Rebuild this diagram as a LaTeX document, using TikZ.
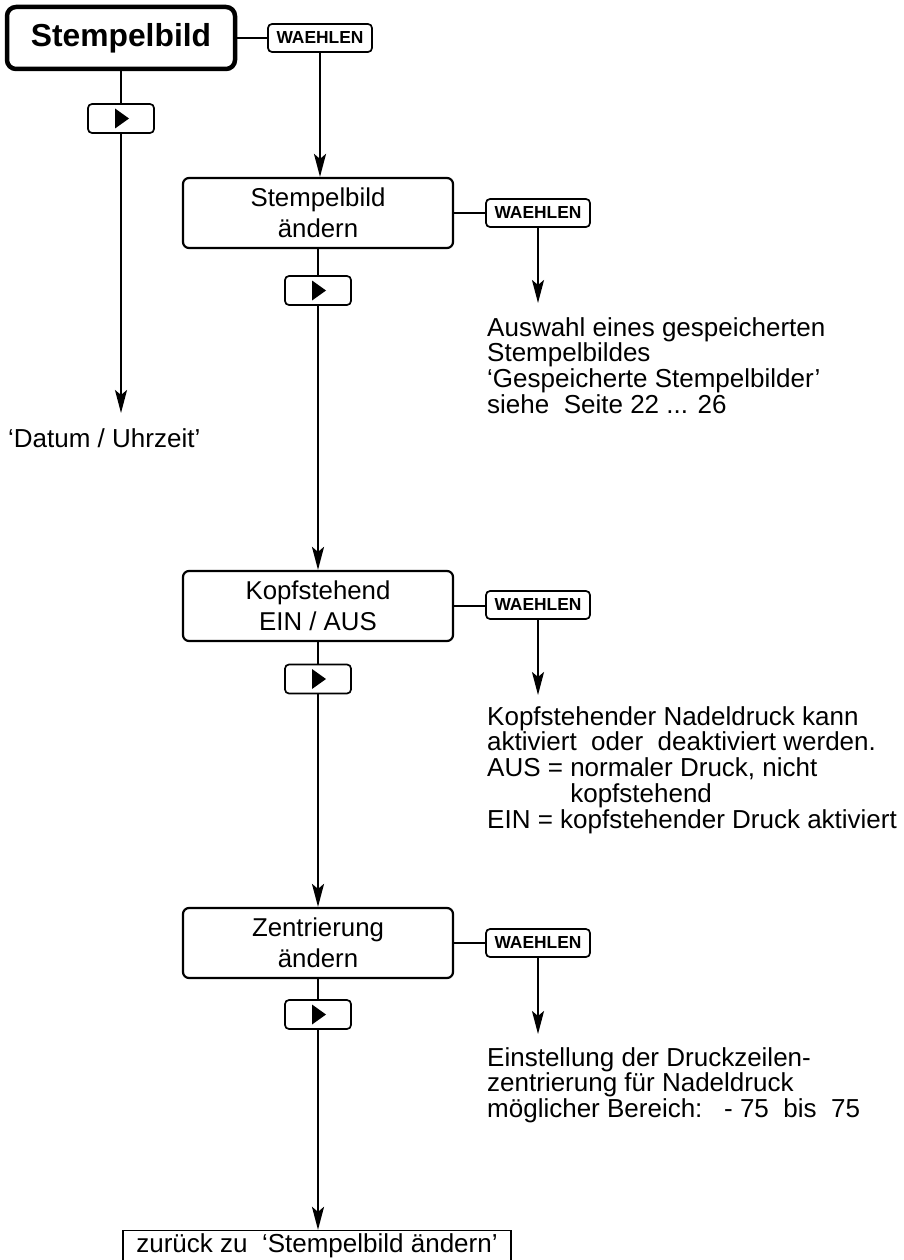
\documentclass[tikz,border=0pt]{standalone}
\usepackage{fontspec}
\setmainfont{Liberation Sans}
\usetikzlibrary{arrows.meta, positioning, calc}
\newcommand{\boxfont}{\fontsize{25.8}{31}\selectfont}
\newcommand{\notefont}{\fontsize{26}{25.8}\selectfont}
\tikzset{
  menu box/.style={
    draw, line width=2.2pt, rounded corners=6pt,
    minimum width=270pt, minimum height=70pt,
    inner sep=0pt, align=center, font=\boxfont
  },
  sel key/.style={
    draw, line width=1.7pt, rounded corners=4pt,
    minimum width=104pt, minimum height=28pt,
    inner sep=0pt, font=\fontsize{17.4}{18}\selectfont\bfseries
  },
  fwd key/.style={
    draw, line width=1.7pt, rounded corners=4pt,
    minimum width=66pt, minimum height=29pt, inner sep=0pt
  }
}

\begin{document}
\begin{tikzpicture}[x=1pt, y=-1pt,
  link/.style={line width=2.3pt},
  flow/.style={line width=2.3pt, -{Stealth[length=23pt, width=12pt, inset=5pt]}},
  note/.style={anchor=north west, align=left, inner sep=0pt, font=\notefont}]

  \useasboundingbox (0,0) rectangle (904,1260);

  % ====== MAIN MENU ======
  \node[draw, line width=4.5pt, rounded corners=9pt, minimum width=228pt, minimum height=62pt,
        inner sep=0pt, font=\fontsize{31.8}{32}\selectfont\bfseries] (top) at (121,38) {Stempelbild};
  \node[sel key] (w0) at (320,38) {WAEHLEN};
  \node[fwd key] (p0) at (121,118.5) {};
  \node[anchor=base west, inner sep=0pt, font=\notefont] (datum) at (8,447) {‘Datum / Uhrzeit’};
  \coordinate (datumtip) at (121,413);

  % ====== STEMPELBILD AENDERN ======
  \node[menu box] (box1) at (318,213) {Stempelbild\\ändern};
  \node[sel key] (w1) at (538,213) {WAEHLEN};
  \node[fwd key] (p1) at (318,290.5) {};
  \node[note] (text1) at (487,317) {Auswahl eines gespeicherten\\Stempelbildes\\‘Gespeicherte Stempelbilder’\\siehe\ \ Seite 22 ... 26};
  \coordinate (tip1) at (538,303);

  % ====== KOPFSTEHEND ======
  \node[menu box] (box2) at (318,606) {Kopfstehend\\EIN / AUS};
  \node[sel key] (w2) at (538,605) {WAEHLEN};
  \node[fwd key] (p2) at (318,679) {};
  \node[note] (text2) at (487,706) {Kopfstehender Nadeldruck kann\\aktiviert\ \ oder\ \ deaktiviert werden.\\AUS = normaler Druck, nicht\\\hphantom{AUS = }kopfstehend\\EIN = kopfstehender Druck aktiviert};
  \coordinate (tip2) at (538,695);

  % ====== ZENTRIERUNG ======
  \node[menu box] (box3) at (318,943) {Zentrierung\\ändern};
  \node[sel key] (w3) at (538,943) {WAEHLEN};
  \node[fwd key] (p3) at (318,1014.5) {};
  \node[note] (text3) at (487,1047) {Einstellung der Druckzeilen-\\zentrierung für Nadeldruck\\möglicher Bereich:\ \ \ - 75\ \ bis\ \ 75};
  \coordinate (tip3) at (538,1034);

  % ====== BACK ======
  \node[draw, line width=1.3pt, minimum width=388pt, minimum height=31pt, inner sep=0pt,
        font=\notefont] (back) at (317,1246) {zurück zu\ \ ‘Stempelbild ändern’};

  % ====== CONNECTORS ======
  \draw[link] (top.east) -- (w0.west);
  \draw[flow] (w0.south) -- (w0.south |- box1.north);
  \draw[link] (top.south) -- (p0.north);
  \draw[flow] (p0.south) -- (datumtip);

  \draw[link] (box1.east) -- (w1.west);
  \draw[flow] (w1.south) -- (tip1);
  \draw[link] (box1.south) -- (p1.north);
  \draw[flow] (p1.south) -- (box2.north);

  \draw[link] (box2.east) -- (w2.west |- box2.east);
  \draw[flow] (w2.south) -- (tip2);
  \draw[link] (box2.south) -- (p2.north);
  \draw[flow] (p2.south) -- (box3.north);

  \draw[link] (box3.east) -- (w3.west);
  \draw[flow] (w3.south) -- (tip3);
  \draw[link] (box3.south) -- (p3.north);
  \draw[flow] (p3.south) -- (p3.south |- back.north);

  % play marks
  \foreach \p in {p0,p1,p2,p3}
    \fill (\p.center) ++(-6,-10) -- ++(0,20) -- ++(14,-10) -- cycle;

\end{tikzpicture}
\end{document}
